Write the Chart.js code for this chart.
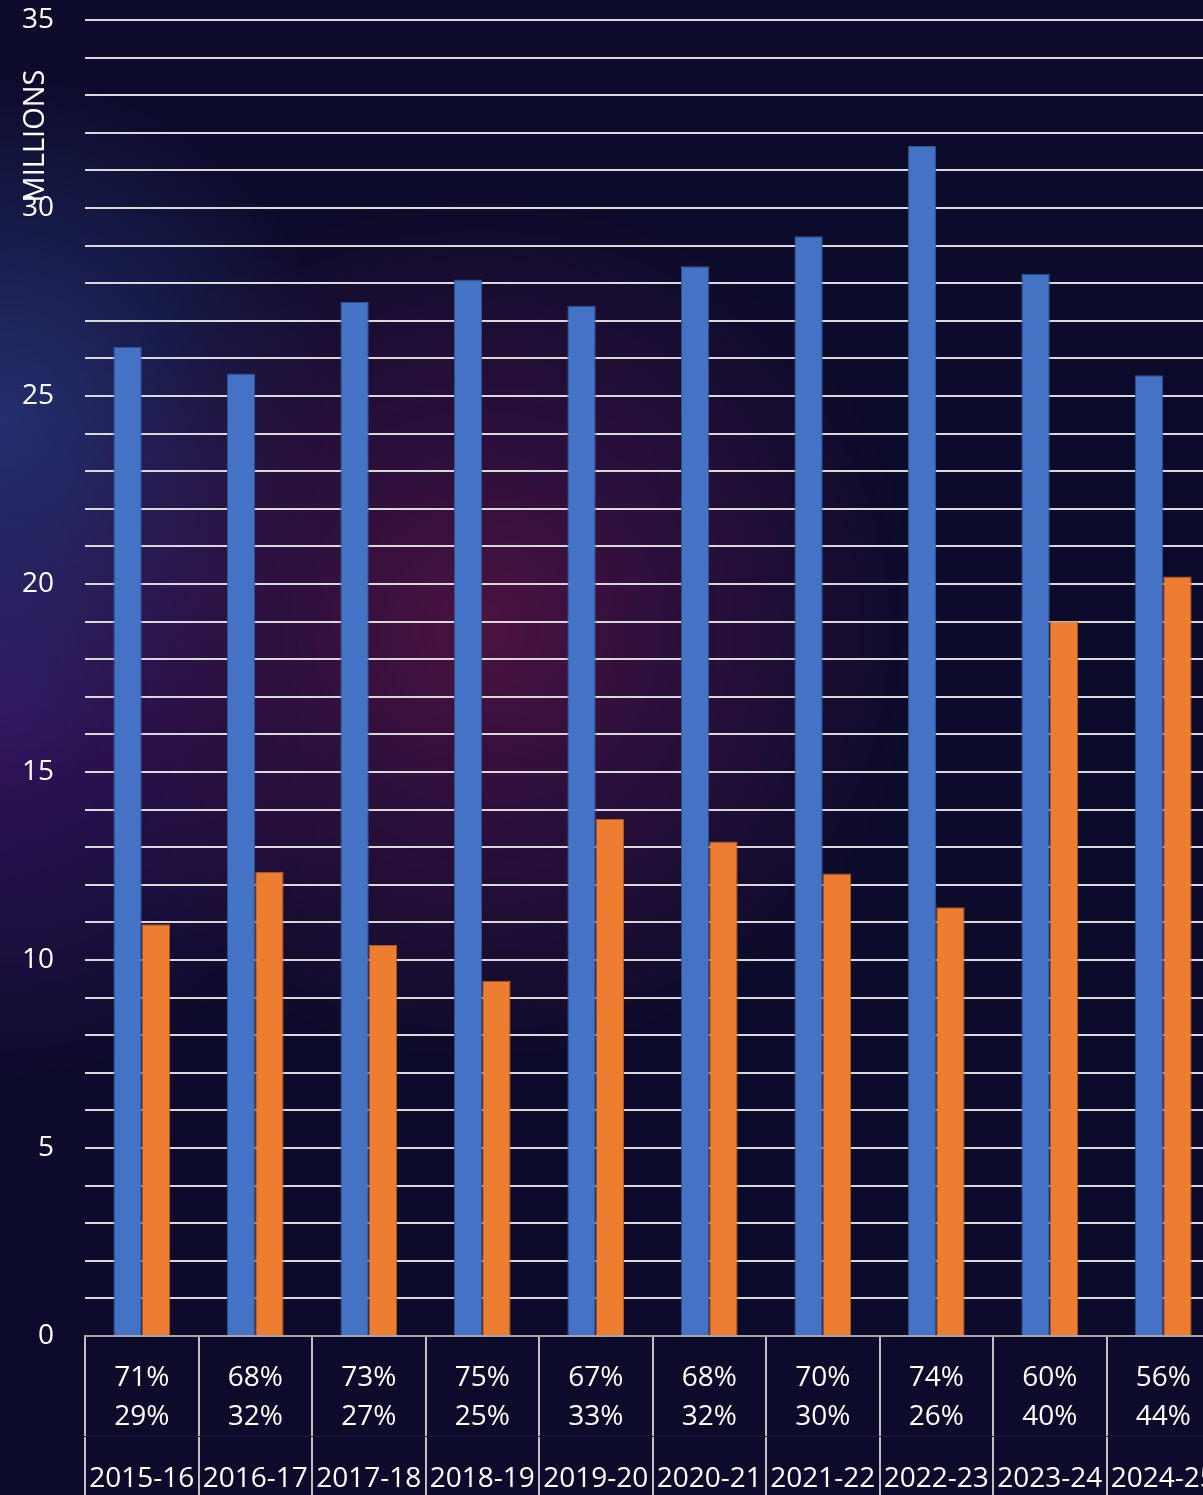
<!DOCTYPE html>
<html>
<head>
<meta charset="utf-8">
<script src="https://cdn.jsdelivr.net/npm/chart.js@4"></script>
<style>
  html, body { margin: 0; padding: 0; width: 1203px; height: 1495px; overflow: hidden; }
  body {
    background:
      radial-gradient(ellipse 440px 430px at 480px 630px, rgba(78,18,64,0.98) 0%, rgba(64,18,70,0.6) 45%, rgba(40,15,70,0) 100%),
      radial-gradient(ellipse 340px 350px at 0px 420px, rgba(38,50,115,0.92) 0%, rgba(38,46,110,0) 100%),
      radial-gradient(ellipse 360px 380px at 0px 700px, rgba(58,22,104,0.85) 0%, rgba(55,22,100,0) 100%),
      #0d0b2b;
  }
  #wrap { position: absolute; left: 0; top: 0; width: 1220px; height: 1495px; }
</style>
</head>
<body>
<div id="wrap"><canvas id="c" width="1220" height="1495"></canvas></div>
<script>
const years = ["2015-16","2016-17","2017-18","2018-19","2019-20","2020-21","2021-22","2022-23","2023-24","2024-25"];
const shareA = ["71%","68%","73%","75%","67%","68%","70%","74%","60%","56%"];
const shareB = ["29%","32%","27%","25%","33%","32%","30%","26%","40%","44%"];
const seriesBlue = [26.3, 25.6, 27.5, 28.1, 27.4, 28.45, 29.25, 31.65, 28.25, 25.55];
const seriesOrange = [10.95, 12.35, 10.4, 9.45, 13.75, 13.15, 12.3, 11.4, 19.0, 20.2];
const yTitle = "MILLIONS";

const pctLabels = shareA.map((a, i) => [a, shareB[i]]);
const FONT = "'Open Sans', sans-serif";

const yTitlePlugin = {
  id: 'yTitle',
  afterDraw(chart) {
    const ctx = chart.ctx;
    ctx.save();
    ctx.translate(36, 136);
    ctx.rotate(-Math.PI / 2);
    ctx.fillStyle = '#ffffff';
    ctx.font = "29px " + FONT;
    ctx.textAlign = 'center';
    ctx.textBaseline = 'middle';
    ctx.fillText(yTitle, 0, 0);
    ctx.restore();
  }
};

new Chart(document.getElementById('c'), {
  type: 'bar',
  data: {
    labels: pctLabels,
    datasets: [
      { data: seriesBlue, backgroundColor: '#4472c4', borderColor: '#2f528f', borderWidth: 1, categoryPercentage: 0.5, barPercentage: 1.0 },
      { data: seriesOrange, backgroundColor: '#ed7d31', borderColor: '#ae5a21', borderWidth: 1, categoryPercentage: 0.5, barPercentage: 1.0 }
    ]
  },
  options: {
    responsive: false,
    animation: false,
    devicePixelRatio: 1,
    layout: { padding: { top: 20, left: 0, right: 0, bottom: 0 } },
    plugins: { legend: { display: false }, tooltip: { enabled: false } },
    scales: {
      y: {
        min: 0, max: 35,
        border: { display: false },
        grid: {
          drawTicks: false,
          color: (c) => c.tick && c.tick.value === 0 ? 'rgba(0,0,0,0)' : '#d9d9d9',
          lineWidth: 2
        },
        ticks: {
          stepSize: 1,
          autoSkip: false,
          padding: 31,
          color: '#ffffff',
          font: { family: FONT, size: 28 },
          callback: (v) => (v % 5 === 0 ? String(v) : '')
        },
        afterFit: (s) => { s.width = 85; s.paddingTop = 0; s.paddingBottom = 0; }
      },
      x: {
        weight: 0,
        border: { display: true, color: '#a6a6a6', width: 2 },
        grid: { offset: true, drawOnChartArea: false, drawTicks: true, tickLength: 100, color: '#bfbfbf', lineWidth: 2 },
        ticks: {
          autoSkip: false, maxRotation: 0, minRotation: 0,
          padding: -77.6,
          color: '#ffffff',
          font: { family: FONT, size: 28, lineHeight: 1.4 }
        },
        afterFit: (s) => { s.height = 100; s.paddingLeft = 0; s.paddingRight = 0; }
      },
      x2: {
        type: 'category',
        labels: years,
        position: 'bottom',
        weight: 1,
        offset: true,
        border: { display: true, color: 'rgba(255,255,255,0.06)', width: 1 },
        grid: { offset: true, drawOnChartArea: false, drawTicks: true, tickLength: 59, color: '#bfbfbf', lineWidth: 2 },
        ticks: {
          autoSkip: false, maxRotation: 0, minRotation: 0,
          padding: -35.6,
          color: '#ffffff',
          font: { family: FONT, size: 28, lineHeight: 1.4 }
        },
        afterFit: (s) => { s.height = 59; s.paddingLeft = 0; s.paddingRight = 0; }
      }
    }
  },
  plugins: [yTitlePlugin]
});
</script>
</body>
</html>
